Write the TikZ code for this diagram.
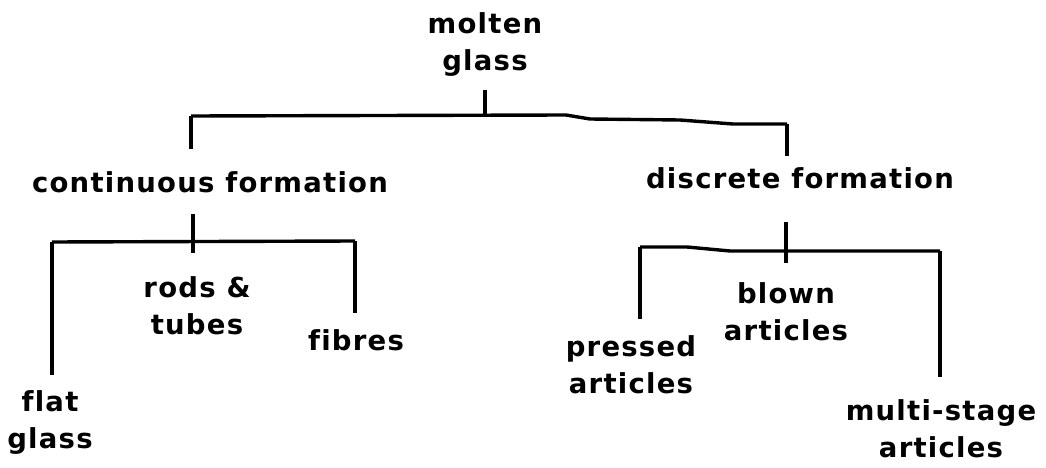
\documentclass[tikz,border=0pt]{standalone}
\usepackage{fontspec}
\setmainfont{DejaVu Sans}[LetterSpace=4.5,Ligatures=NoCommon,BoldFont={DejaVu Sans Bold}]
\usetikzlibrary{calc}
\begin{document}
\begin{tikzpicture}[x=1pt,y=-1pt,
  lbl/.style={inner sep=0pt,align=center,font=\bfseries\fontsize{27.5}{37}\selectfont},
  conn/.style={line width=3.4pt,line join=miter}]
\useasboundingbox (0,0) rectangle (1046,468);
% labels
\node[lbl] (molten) at (485,45) {molten\\glass};
\node[lbl] (cont) at (210,182) {continuous formation};
\node[lbl] (disc) at (800,178) {discrete formation};
\node[lbl] (rods) at (197,306) {rods \&\\tubes};
\node[lbl] (fibres) at (356,340) {fibres};
\node[lbl] (flat) at (50,423) {flat\\glass};
\node[lbl] (pressed) at (631,365) {pressed\\articles};
\node[lbl] (blown) at (786,312) {blown\\articles};
\node[lbl] (multi) at (941,429) {multi-stage\\articles};
% junction coordinates
\coordinate (j0) at (485,116);
\coordinate (cl) at (191,116);
\coordinate (cr) at (787,124);
\coordinate (lj) at (193,242);
\coordinate (ll) at (52,242);
\coordinate (lr) at (355,241);
\coordinate (rj) at (786,251);
\coordinate (rl) at (640,247);
\coordinate (rr) at (940,251);
% top level
\draw[conn,shorten <=13pt] (molten.south) -- (j0);
\draw[conn] (cl) -- (566,115) -- (590,119) -- (680,120) -- (733,124) -- (cr);
\draw[conn,shorten >=22pt] (cl) -- (cl |- cont.north);
\draw[conn,shorten >=11pt] (cr) -- (cr |- disc.north);
% continuous formation subtree
\draw[conn,shorten <=21pt] (lj |- cont.south) -- ($(lj)+(0,11)$);
\draw[conn] (ll) -- (lr);
\draw[conn,shorten >=16pt] (ll) -- (ll |- flat.north);
\draw[conn,shorten >=16pt] (lr) -- (lr |- fibres.north);
% discrete formation subtree
\draw[conn,shorten <=33pt] (rj |- disc.south) -- ($(rj)+(0,12)$);
\draw[conn] (rl) -- (687,247) -- (730,251) -- (rr);
\draw[conn,shorten >=17pt] (rl) -- (rl |- pressed.north);
\draw[conn,shorten >=23pt] (rr) -- (rr |- multi.north);
\end{tikzpicture}
\end{document}
